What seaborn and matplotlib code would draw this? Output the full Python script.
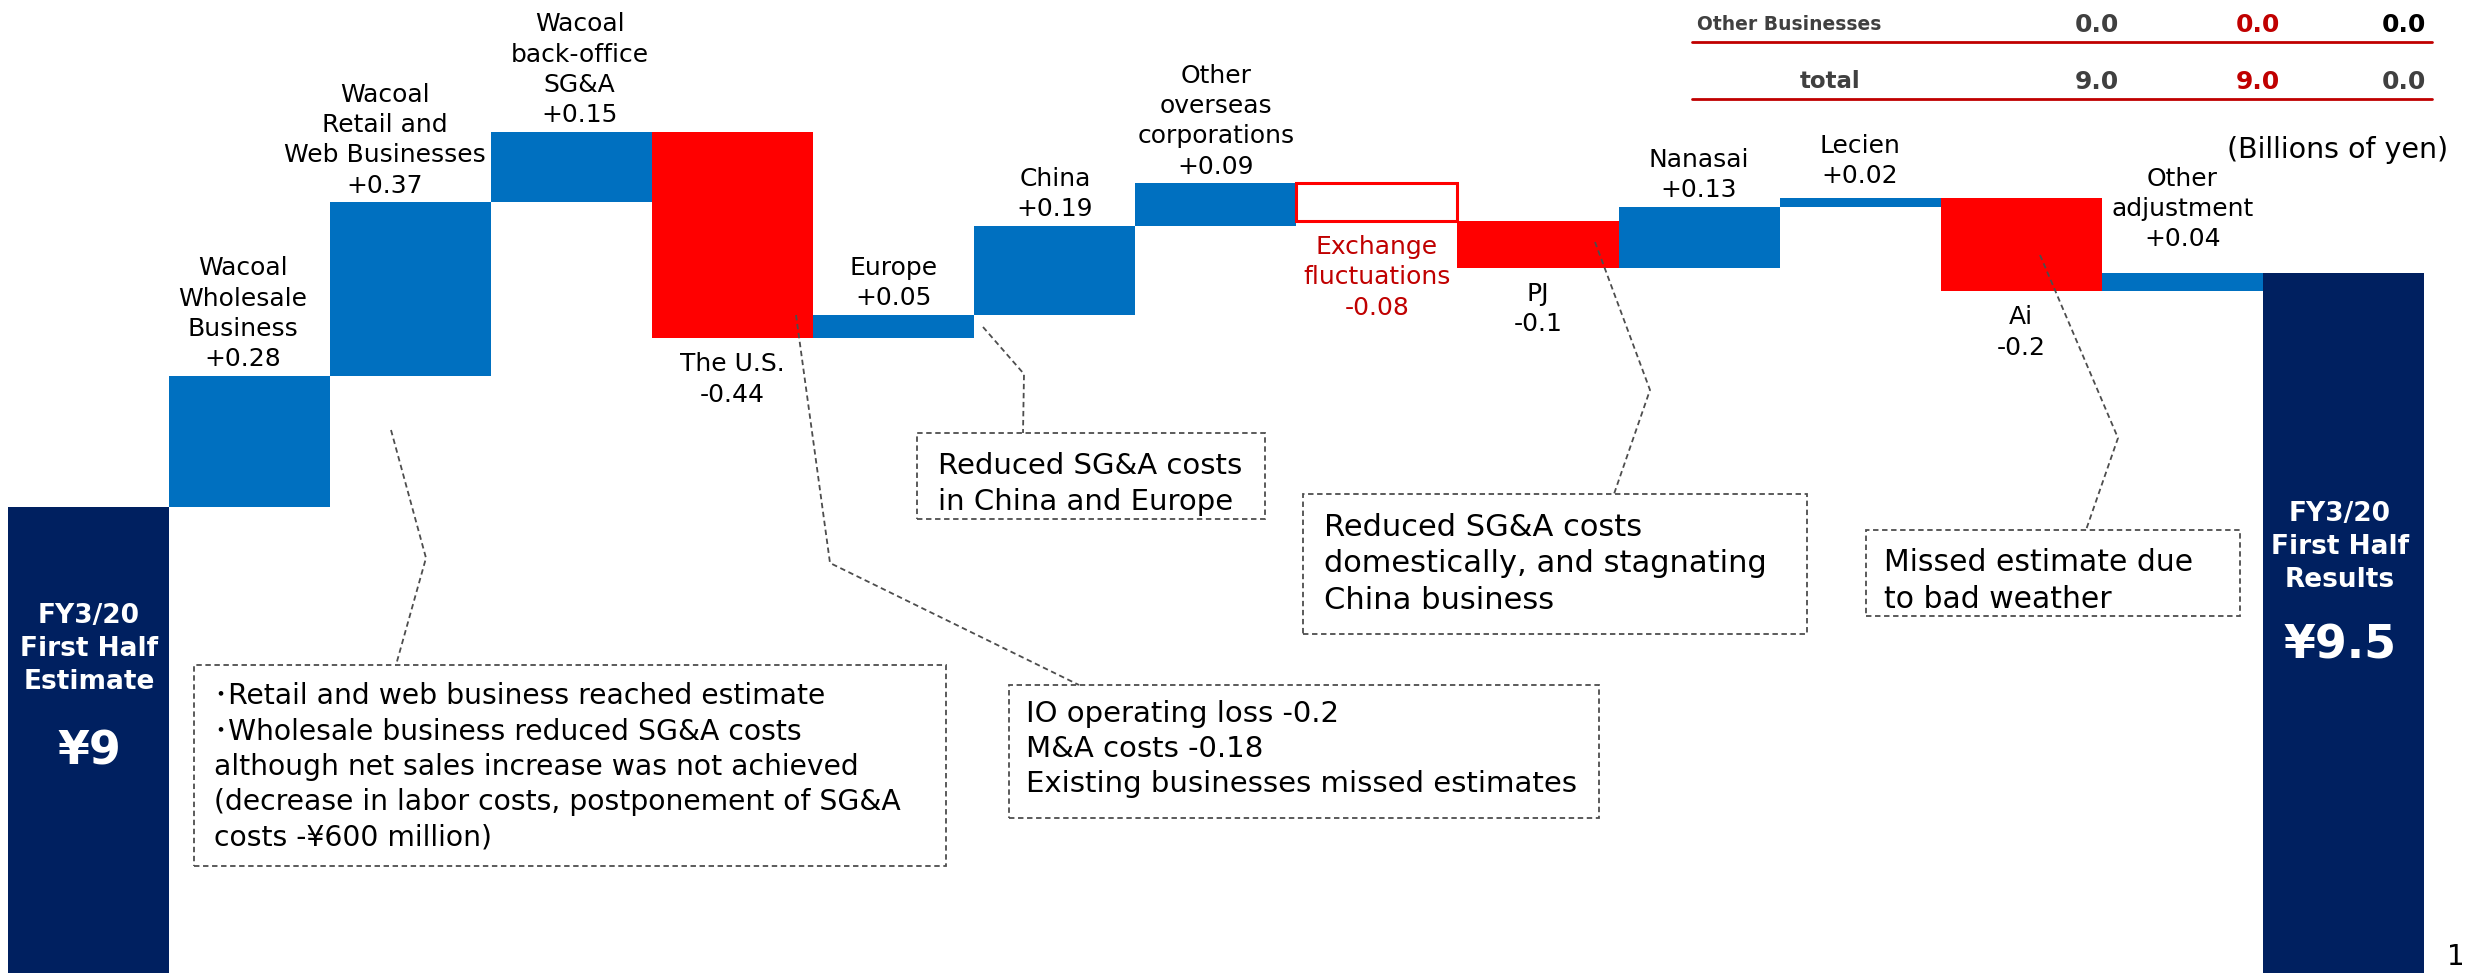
import numpy as np
import pandas as pd
import matplotlib
matplotlib.use("Agg")
import matplotlib.pyplot as plt
import seaborn as sns
from matplotlib.patches import Rectangle

# Waterfall data (billions of yen)
steps = ["FY3/20 First Half Estimate", "Wacoal Wholesale Business", "Wacoal Retail and Web Businesses",
         "Wacoal back-office SG&A", "The U.S.", "Europe", "China", "Other overseas corporations",
         "Exchange fluctuations", "PJ", "Nanasai", "Lecien", "Ai", "Other adjustment",
         "FY3/20 First Half Results"]
bar_labels = ["", "Wacoal\nWholesale\nBusiness", "Wacoal\nRetail and\nWeb Businesses", "Wacoal\nback-office\nSG&A",
              "The U.S.", "Europe", "China", "Other\noverseas\ncorporations", "Exchange\nfluctuations",
              "PJ", "Nanasai", "Lecien", "Ai", "Other\nadjustment", ""]
changes = [9.0, 0.28, 0.37, 0.15, -0.44, 0.05, 0.19, 0.09, -0.08, -0.10, 0.13, 0.02, -0.20, 0.04, 9.5]
change_text = ["", "+0.28", "+0.37", "+0.15", "-0.44", "+0.05", "+0.19", "+0.09", "-0.08", "-0.1",
               "+0.13", "+0.02", "-0.2", "+0.04", ""]
kinds = ["total", "up", "up", "up", "down", "up", "up", "up", "fx", "down", "up", "up", "down", "up", "total"]
total_titles = ["FY3/20\nFirst Half\nEstimate", "FY3/20\nFirst Half\nResults"]
total_values = ["¥9", "¥9.5"]

# small table top right
table_rows = ["Other Businesses", "total"]
table_vals = [[0.0, 0.0, 0.0], [9.0, 9.0, 0.0]]

notes = {
    "wacoal": "･Retail and web business reached estimate\n･Wholesale business reduced SG&A costs\n"
              "although net sales increase was not achieved\n(decrease in labor costs, postponement of SG&A\n"
              "costs -¥600 million)",
    "us": "IO operating loss -0.2\nM&A costs -0.18\nExisting businesses missed estimates",
    "china": "Reduced SG&A costs\nin China and Europe",
    "pj": "Reduced SG&A costs\ndomestically, and stagnating\nChina business",
    "ai": "Missed estimate due\nto bad weather",
}

# floating bar geometry
bottoms, heights = [], []
level = 0.0
for k, v in zip(kinds, changes):
    if k == "total":
        bottoms.append(0.0)
        heights.append(v)
        level = v
    elif v >= 0:
        bottoms.append(level)
        heights.append(v)
        level += v
    else:
        bottoms.append(level + v)
        heights.append(-v)
        level += v

df = pd.DataFrame({"step": steps, "bottom": bottoms, "height": heights, "kind": kinds})

sns.set_style("white")
plt.rcParams["font.family"] = ["DejaVu Sans", "Noto Sans CJK JP"]

W, H = 2468, 973
fig = plt.figure(figsize=(W / 100, H / 100), dpi=100)
ax = fig.add_axes([0, 0, 1, 1])

BLUE, RED, NAVY, DRED = "#0070C0", "#FF0000", "#002060", "#C00000"
styles = {
    "total": dict(color=NAVY, linewidth=0),
    "up": dict(color=BLUE, linewidth=0),
    "down": dict(color=RED, linewidth=0),
    "fx": dict(color="white", edgecolor=RED, linewidth=2.2),
}
for k, st in styles.items():
    sub = df[df.kind == k]
    sns.barplot(data=sub, x="step", y="height", order=steps, bottom=sub["bottom"].to_numpy(),
                width=1.0, saturation=1, errorbar=None, ax=ax, **st)

ax.set_xlim(-0.549, 14.774)
ax.set_ylim(8.007, 10.081)
ax.axis("off")


def fx(p):
    return p / W


def fy(p):
    return 1 - p / H


# bar labels
up_pad = {13: 0.045, 11: 0.02}
x_shift = {1: -0.04, 2: -0.16, 3: 0.05}
for i, (lab, txt, k) in enumerate(zip(bar_labels, change_text, kinds)):
    if k == "total":
        continue
    top = bottoms[i] + heights[i]
    label = lab + "\n" + txt
    xi = i + x_shift.get(i, 0)
    if k == "up":
        ax.text(xi, top + up_pad.get(i, 0.01), label, ha="center", va="bottom",
                fontsize=18, linespacing=1.33, color="black")
    else:
        col = DRED if k == "fx" else "black"
        ax.text(xi, bottoms[i] - 0.03, label, ha="center", va="top",
                fontsize=18, linespacing=1.33, color=col)

# text inside total bars
ax.text(fx(89), fy(649), total_titles[0], transform=ax.transAxes, ha="center", va="center",
        color="white", fontsize=19, fontweight="bold", linespacing=1.35)
ax.text(fx(89), fy(752), total_values[0], transform=ax.transAxes, ha="center", va="center",
        color="white", fontsize=33, fontweight="bold")
ax.text(fx(2340), fy(547), total_titles[1], transform=ax.transAxes, ha="center", va="center",
        color="white", fontsize=19, fontweight="bold", linespacing=1.35)
ax.text(fx(2340), fy(646), total_values[1], transform=ax.transAxes, ha="center", va="center",
        color="white", fontsize=33, fontweight="bold")

# dashed note boxes: (x0, y0, x1, y1, text x, block centre y, fontsize, key)
boxes = [
    (194, 665, 946, 866, 214, 767, 20.3, "wacoal"),
    (1009, 685, 1599, 818, 1026, 749, 21, "us"),
    (917, 433, 1265, 519, 938, 484, 21, "china"),
    (1303, 494, 1807, 634, 1324, 564, 22, "pj"),
    (1866, 530, 2240, 616, 1884, 581, 21.5, "ai"),
]
dash = dict(color="#4d4d4d", linewidth=1.3, linestyle=(0, (3, 2)))
for x0, y0, x1, y1, tx, ty, fs, key in boxes:
    ax.add_patch(Rectangle((fx(x0), fy(y1)), fx(x1) - fx(x0), fy(y0) - fy(y1),
                           transform=ax.transAxes, fill=False, **dash))
    ax.text(fx(tx), fy(ty), notes[key], transform=ax.transAxes, ha="left", va="center",
            fontsize=fs, linespacing=1.33, color="black")

# leader lines
leaders = [
    [(391, 430), (426, 558), (396, 665)],
    [(796, 315), (830, 563), (1079, 685)],
    [(983, 327), (1024, 374), (1023, 433)],
    [(1595, 242), (1650, 390), (1614, 494)],
    [(2040, 255), (2118, 438), (2086, 530)],
]
for pts in leaders:
    ax.plot([fx(p[0]) for p in pts], [fy(p[1]) for p in pts], transform=ax.transAxes, **dash)

# table at top right
val_cols = [2119, 2280, 2426]
row_y = [25, 82]
row_colors = [["#404040", DRED, "black"], ["#404040", DRED, "#404040"]]
ax.text(fx(1697), fy(row_y[0]), table_rows[0], transform=ax.transAxes, ha="left", va="center",
        fontsize=13.5, fontweight="bold", color="#404040")
ax.text(fx(1830), fy(row_y[1]), table_rows[1], transform=ax.transAxes, ha="center", va="center",
        fontsize=16.5, fontweight="bold", color="#404040")
for r, vals in enumerate(table_vals):
    for c, v in enumerate(vals):
        ax.text(fx(val_cols[c]), fy(row_y[r]), f"{v:.1f}", transform=ax.transAxes, ha="right",
                va="center", fontsize=18, fontweight="bold", color=row_colors[r][c])
for ly in [42, 99]:
    ax.plot([fx(1692), fx(2432)], [fy(ly), fy(ly)], transform=ax.transAxes, color=DRED, linewidth=2)

ax.text(fx(2448), fy(150), "(Billions of yen)", transform=ax.transAxes, ha="right", va="center",
        fontsize=20.5, color="black")
ax.text(fx(2456), fy(957), "1", transform=ax.transAxes, ha="center", va="center",
        fontsize=20, color="black")

fig.savefig("out.png", dpi=100)
